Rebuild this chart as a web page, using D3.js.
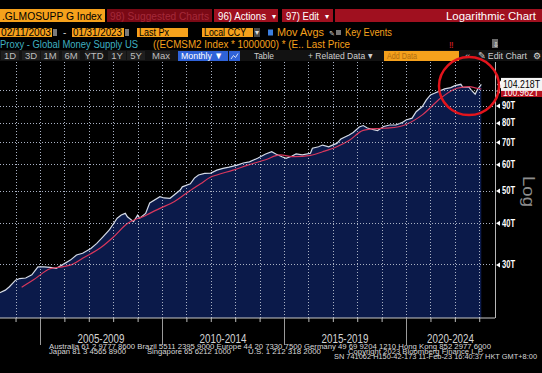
<!DOCTYPE html>
<html>
<head>
<meta charset="utf-8">
<script src="https://cdn.jsdelivr.net/npm/d3@7"></script>
<style>
  body { margin: 0; background: #000; overflow: hidden; }
  svg { display: block; }
  text { font-family: "Liberation Sans", Arial, sans-serif; }
</style>
</head>
<body>
<div id="chart"></div>
<script>
// monthly closes (month end), trillions USD
var months = ["2003-04","2003-07","2003-09","2003-12","2004-02","2004-05","2004-08","2004-11",
  "2005-02","2005-05","2005-08","2005-11","2006-03","2006-06","2006-09","2007-01","2007-04","2007-07","2007-10",
  "2008-02","2008-04","2008-06","2008-07","2008-10","2008-12","2009-01","2009-04","2009-06","2009-11",
  "2010-01","2010-04","2010-06","2010-09","2010-10","2011-02","2011-04","2011-06","2011-09","2011-12",
  "2012-03","2012-06","2012-09","2013-01","2013-04","2013-07","2013-11","2014-03","2014-06","2014-08","2014-11",
  "2015-01","2015-04","2015-06","2015-09","2016-01","2016-02","2016-05","2016-07","2016-10","2016-11",
  "2017-02","2017-04","2017-08","2017-10","2018-01","2018-03","2018-05","2018-08","2018-10",
  "2019-01","2019-04","2019-07","2019-10","2019-12","2020-03","2020-05","2020-08","2020-10","2020-12",
  "2021-02","2021-05","2021-07","2021-10","2021-12","2022-03","2022-04","2022-07","2022-08","2022-10","2022-11","2023-01"];
var supply = [24.6,25.1,25.7,26.9,27.2,27.3,27.9,29.5,
  29.5,29.4,29.2,29.9,30.9,32.0,32.4,33.5,34.7,36.3,38.0,
  41.3,42.2,42.7,41.7,40.3,42.2,41.3,42.7,45.9,47.9,
  47.5,47.4,48.5,50.2,51.3,52.4,54.5,55.7,56.3,56.4,
  57.6,58.3,58.8,59.6,60.5,61.0,62.5,64.4,65.4,64.4,63.2,
  62.5,63.5,64.4,64.0,64.7,67.0,67.7,68.5,67.7,68.1,
  69.3,71.4,73.4,74.7,77.6,78.4,77.1,76.2,75.7,
  77.9,78.7,78.7,80.0,81.5,82.5,86.3,89.4,93.6,96.9,
  98.0,99.8,101.0,101.9,103.3,104.3,102.2,102.2,100.3,97.4,100.3,104.218];

// moving average (red line)
var maMonths = ["2004-03","2004-09","2005-05","2005-11","2006-04","2006-09","2007-06","2007-12",
  "2008-07","2008-12","2009-03","2009-06","2009-11","2010-06","2010-12","2011-07","2011-12",
  "2012-03","2012-11","2013-07","2014-03","2014-10","2015-05","2016-01","2016-07","2017-02",
  "2017-08","2018-03","2018-10","2019-04","2019-12","2020-08","2021-05","2022-01","2022-07","2022-11","2023-01"];
var maSupply = [25.6,27.0,29.1,29.5,30.0,31.3,33.7,36.2,
  39.8,41.2,41.8,42.7,44.2,46.3,49.1,52.4,54.9,
  55.7,57.6,59.8,61.9,64.0,63.2,63.8,65.4,67.7,
  70.7,75.8,76.8,77.1,79.0,84.4,94.7,101.5,102.6,101.5,100.962];

var yTicks = [30, 40, 50, 60, 70, 80, 90, 100];
var periods = ["2005-2009", "2010-2014", "2015-2019", "2020-2024"];
var periodStarts = ["2005-01", "2010-01", "2015-01", "2020-01", "2025-01"];

var W = 542, H = 373;
var pL = 0, pR = 495, pT = 62, pB = 318;

var parse = d3.timeParse("%Y-%m");
function monthEnd(s) { return d3.timeMonth.offset(parse(s), 1); }

var data = months.map(function(m, i) { return {date: monthEnd(m), v: supply[i]}; });
var ma = maMonths.map(function(m, i) { return {date: monthEnd(m), v: maSupply[i]}; });

var svg = d3.select("#chart").append("svg")
    .attr("width", W).attr("height", H)
    .style("background", "#000");

var x = d3.scaleTime()
    .domain([parse("2005-01"), parse("2020-01")])
    .range([40, 406]);
var y = d3.scaleLog()
    .domain([20.7, 121.7])
    .range([pB, pT]);
function crisp(v) { return Math.round(v) + 0.5; }

// ---------- header ----------
function box(x0, y0, w, h, fill) {
  svg.append("rect").attr("x", x0).attr("y", y0).attr("width", w).attr("height", h).attr("fill", fill);
}
function label(x0, y0, s, fill, size, len, extra) {
  var t = svg.append("text").attr("x", x0).attr("y", y0).text(s)
      .attr("fill", fill).attr("font-size", size);
  if (len) t.attr("textLength", len).attr("lengthAdjust", "spacingAndGlyphs");
  if (extra) extra(t);
  return t;
}
var amber = "#f5a11c", red = "#a0101f";

box(0, 9, 105, 13, amber);
label(2, 19.5, ".GLMOSUPP G Index", "#000", 11.5, 100);
box(107, 9, 105, 13, "#7a0915");
label(110, 19.5, "98) Suggested Charts", "#a52a3a", 11.5, 99);
box(214, 9, 64, 13, red);
label(218, 19.5, "96) Actions", "#fff", 11.5, 48);
label(271.5, 19, "▾", "#fff", 8);
box(282, 9, 51, 13, red);
label(286, 19.5, "97) Edit", "#fff", 11.5, 33);
label(325, 19, "▾", "#fff", 8);
box(335, 9, 207, 13, red);
label(536, 19.5, "Logarithmic Chart", "#fff", 11.5, 90, function(t) { t.attr("text-anchor", "end"); });

// row 2
box(0, 28, 52, 9, amber);
label(1, 35.5, "02/11/2003", "#000", 10, 50);
box(53, 29, 4, 7, "#7a7a7a");
label(63, 35.5, "-", "#ccc", 10);
box(72, 28, 52, 9, amber);
label(73, 35.5, "01/31/2023", "#000", 10, 49);
box(125, 29, 4, 7, "#7a7a7a");
box(137, 28, 51, 9, amber);
label(139, 35.5, "Last Px", "#000", 10, 30);
box(202, 28, 51, 9, amber);
label(204, 35.5, "Local CCY", "#000", 10, 42);
box(254, 28, 6, 9, "#4a4a4a");
label(255, 35, "▾", "#ddd", 8);
box(268, 29.5, 5, 6, "#3c7fe0");
label(277, 35.5, "Mov Avgs", amber, 10, 47);
label(329, 35.5, "✎", "#ddd", 7);
box(336, 30, 5, 5, "#777");
label(345, 35.5, "Key Events", amber, 10, 47);

// row 3
label(0, 47.5, "Proxy - Global Money Supply US", "#3fb0c0", 10, 138);
label(153, 47.5, "((ECMSM2 Index * 1000000) * (E..  Last Price", amber, 10, 197);
label(449, 47.5, "‼", "#e0202a", 9);
box(492, 39, 6, 9, "#6a6a6a");
label(492.5, 46.5, "⇩", "#fff", 7);

// row 4 (toolbar)
box(0, 50, 542, 11, "#121212");
var btns = [["1D", 10], ["3D", 31], ["1M", 50], ["6M", 71], ["YTD", 94], ["1Y", 117], ["5Y", 136], ["Max", 161]];
btns.forEach(function(b) {
  box(b[1] - 9, 51, 18, 9, "#1f1f1f");
  label(b[1], 58.5, b[0], "#bdbdbd", 9.5, null, function(t) { t.attr("text-anchor", "middle"); });
});
box(178, 51, 50, 10, "#2f62d8");
label(181, 58.5, "Monthly ▼", "#fff", 9.5, 42);
box(229, 51, 11, 10, "#2f62d8");
svg.append("path").attr("d", "M231,59 L233.5,55.5 L235.5,57.5 L238,53.5").attr("fill", "none")
   .attr("stroke", "#fff").attr("stroke-width", 0.8);
label(254, 58.5, "Table", "#cfcfcf", 9.5, 20);
label(308, 58.5, "+ Related Data ▾", "#cfcfcf", 9.5, 64);
box(384, 51, 75, 10, amber);
label(387, 58.5, "Add Data", "#b06c10", 9.5, 30);
label(465, 58.5, "«", "#bbb", 9.5);
label(478, 58.5, "✎ Edit Chart", "#cfcfcf", 9.5, 49);
label(533, 58.5, "⚙", "#ddd", 9);

// ---------- plot ----------
svg.append("clipPath").attr("id", "clip")
  .append("rect").attr("x", pL).attr("y", pT).attr("width", pR - pL).attr("height", pB - pT);
var plot = svg.append("g").attr("clip-path", "url(#clip)");

var area = d3.area()
    .x(function(d) { return x(d.date); })
    .y0(pB)
    .y1(function(d) { return y(d.v); });
plot.append("path").datum(data).attr("d", area).attr("fill", "#0b1a4a");

// grid (dotted)
var years = d3.timeYear.range(parse("2003-01"), parse("2024-01"));
plot.selectAll("line.vgrid").data(years).enter().append("line")
    .attr("class", "vgrid")
    .attr("x1", function(d) { return crisp(x(d)); }).attr("x2", function(d) { return crisp(x(d)); })
    .attr("y1", pT).attr("y2", pB)
    .attr("stroke", "#aab2c4").attr("stroke-width", 1)
    .attr("stroke-dasharray", "1,2").attr("shape-rendering", "crispEdges");
svg.selectAll("line.hgrid").data(yTicks).enter().append("line")
    .attr("class", "hgrid")
    .attr("x1", pL).attr("x2", pR + 2)
    .attr("y1", function(d) { return crisp(y(d)); }).attr("y2", function(d) { return crisp(y(d)); })
    .attr("stroke", "#aab2c4").attr("stroke-width", 1)
    .attr("stroke-dasharray", "1,2").attr("shape-rendering", "crispEdges");

var line = d3.line()
    .x(function(d) { return x(d.date); })
    .y(function(d) { return y(d.v); });
plot.append("path").datum(data).attr("d", line)
    .attr("fill", "none").attr("stroke", "#d5dbe6").attr("stroke-width", 1.2);
plot.append("path").datum(ma).attr("d", line.curve(d3.curveMonotoneX))
    .attr("fill", "none").attr("stroke", "#d8375c").attr("stroke-width", 1.2);

// bottom axis
var xAxis = d3.axisBottom(x).tickValues(years).tickSize(4).tickFormat("");
var gx = svg.append("g").attr("transform", "translate(0," + pB + ")").call(xAxis);
gx.select(".domain").remove();
gx.selectAll(".tick line").attr("stroke", "#bbb");
gx.selectAll(".tick").filter(function(d) { return x(d) < pL || x(d) > pR; }).remove();
svg.append("line").attr("x1", pL).attr("x2", pR).attr("y1", pB).attr("y2", pB)
   .attr("stroke", "#c8c8c8").attr("stroke-width", 1);

var pDates = periodStarts.map(parse);
svg.selectAll("line.sep").data(pDates.slice(0, 4)).enter().append("line")
    .attr("class", "sep")
    .attr("x1", function(d) { return crisp(x(d)); }).attr("x2", function(d) { return crisp(x(d)); })
    .attr("y1", pB).attr("y2", 345)
    .attr("stroke", "#9a9a9a").attr("stroke-width", 1);
svg.selectAll("text.period").data(periods).enter().append("text")
    .attr("class", "period")
    .attr("x", function(d, i) { return (x(pDates[i]) + Math.min(x(pDates[i + 1]), pR)) / 2; })
    .attr("y", 342.5)
    .attr("text-anchor", "middle")
    .attr("fill", "#d4d4d4").attr("font-size", 12.5)
    .attr("textLength", 47).attr("lengthAdjust", "spacingAndGlyphs")
    .text(function(d) { return d; });

// right axis
svg.append("line").attr("x1", pR + 0.5).attr("x2", pR + 0.5).attr("y1", pT).attr("y2", pB)
   .attr("stroke", "#b8b8b8").attr("stroke-width", 1);
var yAxis = d3.axisRight(y).tickValues(yTicks).tickSize(0).tickPadding(7)
    .tickFormat(function(d) { return d + "T"; });
var gy = svg.append("g").attr("transform", "translate(" + pR + ",0)").call(yAxis);
gy.select(".domain").remove();
gy.selectAll(".tick text").attr("fill", "#fff").attr("font-size", 10).attr("font-weight", "bold")
  .attr("font-family", "Liberation Sans, Arial, sans-serif")
  .attr("textLength", 13).attr("lengthAdjust", "spacingAndGlyphs");
gy.selectAll(".tick").append("path").attr("d", "M1,0 L5,-2.5 L5,2.5 Z").attr("fill", "#fff");

label(523, 176, "Log", "#8d8d8d", 17, 31, function(t) {
  t.attr("transform", "rotate(90,523,176)");
});

// last value labels
var lastMa = ma[ma.length - 1].v, lastPx = data[data.length - 1].v;
var fmt = d3.format(".3f");
box(501, y(lastMa) - 1, 41, 9, "#b5121f");
label(503, y(lastMa) + 7.5, fmt(lastMa) + "T", "#fff", 10, 36);
svg.append("path")
   .attr("d", "M497," + y(lastPx) + " L501," + (y(lastPx) - 4) + " L501," + (y(lastPx) + 4) + " Z")
   .attr("fill", "#fff");
box(501, y(lastPx) - 6.5, 41, 13, "#f4f4f4");
label(503, y(lastPx) + 4, fmt(lastPx) + "T", "#000", 10.5, 37);

// red circle annotation
svg.append("ellipse")
   .attr("cx", x(parse("2022-08"))).attr("cy", y(103))
   .attr("rx", 30).attr("ry", 29)
   .attr("fill", "none").attr("stroke", "#e3141c").attr("stroke-width", 2.5);

// ---------- footer ----------
function foot(x0, y0, s, len) {
  svg.append("text").attr("x", x0).attr("y", y0).text(s)
     .attr("fill", "#d8d8d8").attr("font-size", 6.5)
     .attr("font-family", "DejaVu Sans Mono, monospace")
     .attr("textLength", len).attr("lengthAdjust", "spacingAndGlyphs");
}
foot(49, 349, "Australia 61 2 9777 8600 Brazil 5511 2395 9000 Europe 44 20 7330 7500 Germany 49 69 9204 1210 Hong Kong 852 2977 6000", 442);
foot(49, 353.5, "Japan 81 3 4565 8900", 77);
foot(147, 353.5, "Singapore 65 6212 1000", 84);
foot(248, 353.5, "U.S. 1 212 318 2000", 73);
foot(348, 353.5, "Copyright 2023 Bloomberg Finance L.P.", 136);
foot(334, 359, "SN 741062 H150-42-173 11-Feb-23 16:40:37 HKT  GMT+8:00", 203);
</script>
</body>
</html>
